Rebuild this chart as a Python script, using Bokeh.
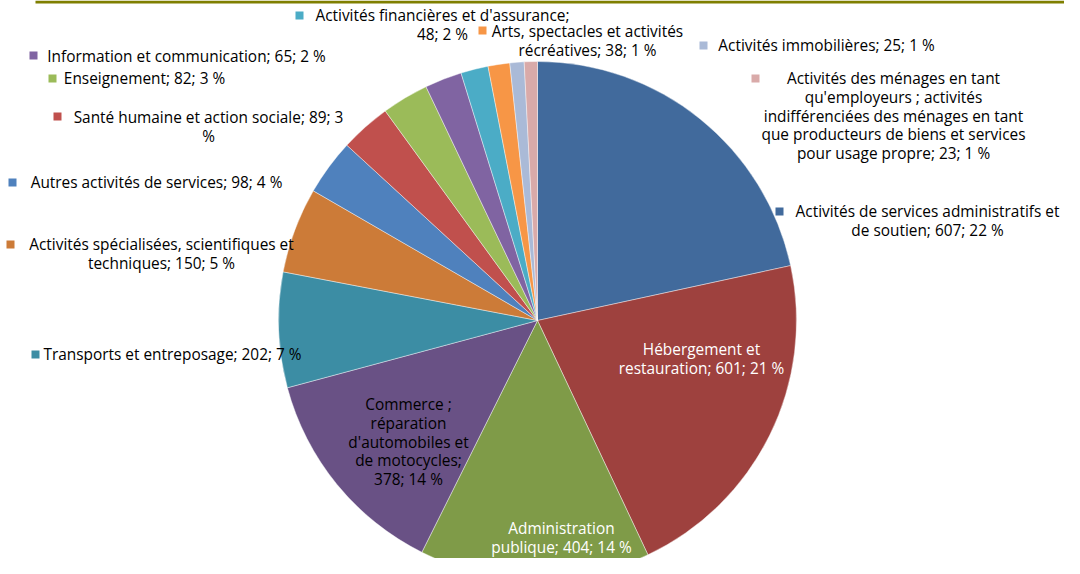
import math
from bokeh.plotting import figure
from bokeh.models import Range1d, ColumnDataSource
from bokeh.core.properties import value
from bokeh.embed import file_html
from bokeh.resources import INLINE

# ---- data (clockwise from 12 o'clock) ----
categories = [
    "Activités de services administratifs et de soutien",
    "Hébergement et restauration",
    "Administration publique",
    "Commerce ; réparation d'automobiles et de motocycles",
    "Transports et entreposage",
    "Activités spécialisées, scientifiques et techniques",
    "Autres activités de services",
    "Santé humaine et action sociale",
    "Enseignement",
    "Information et communication",
    "Activités financières et d'assurance",
    "Arts, spectacles et activités récréatives",
    "Activités immobilières",
    "Activités des ménages en tant qu'employeurs ; activités indifférenciées des ménages en tant que producteurs de biens et services pour usage propre",
]
values = [607, 601, 404, 378, 202, 150, 98, 89, 82, 65, 48, 38, 25, 23]
percents = [22, 21, 14, 14, 7, 5, 4, 3, 3, 2, 2, 1, 1, 1]
colors = ["#416A9C", "#9E413E", "#7F9B48", "#695185", "#3C8DA4", "#CC7B38",
          "#4F81BD", "#C0504D", "#9BBB59", "#8064A2", "#4BACC6", "#F79646",
          "#AABAD7", "#D9AAA9"]

# ---- label layout (page pixels): line breaks, first-line centre, marker, colour ----
label_lines = [
    ["Activités de services administratifs et", "de soutien; 607; 22 %"],
    ["Hébergement et", "restauration; 601; 21 %"],
    ["Administration", "publique; 404; 14 %"],
    ["Commerce ;", "réparation", "d'automobiles et", "de motocycles;", "378; 14 %"],
    ["Transports et entreposage; 202; 7 %"],
    ["Activités spécialisées, scientifiques et", "techniques; 150; 5 %"],
    ["Autres activités de services; 98; 4 %"],
    ["Santé humaine et action sociale; 89; 3", "%"],
    ["Enseignement; 82; 3 %"],
    ["Information et communication; 65; 2 %"],
    ["Activités financières et d'assurance;", "48; 2 %"],
    ["Arts, spectacles et activités", "récréatives; 38; 1 %"],
    ["Activités immobilières; 25; 1 %"],
    ["Activités des ménages en tant", "qu'employeurs ; activités",
     "indifférenciées des ménages en tant", "que producteurs de biens et services",
     "pour usage propre; 23; 1 %"],
]
label_pos = [(927, 211), (701, 349), (561, 528), (408, 404), (172, 354), (161, 244),
             (156, 182), (208, 117), (144, 78), (186, 56), (442, 15), (587, 31),
             (826, 45), (893, 78)]
marker_pos = [(779, 211), None, None, None, (35, 354), (10, 244), (12, 182),
              (57, 116), (52, 78), (33, 55), (299, 15), (482, 30), (703, 45), (755, 78)]
text_colors = ["black", "white", "white", "black"] + ["black"] * 10
LINE_H = 18.8

W, H = 1064, 558
def Y(py):
    return 574 - py

p = figure(width=W, height=H, output_backend="svg", toolbar_location=None,
           x_range=Range1d(0, W), y_range=Range1d(574 - H, 574),
           min_border=0, outline_line_color=None, background_fill_color="white")
p.axis.visible = False
p.grid.visible = False

# pie
cx, cy, r = 537, Y(320), 259
total = sum(values)
starts, ends = [], []
acc = 0
for v in values:
    starts.append(math.pi / 2 - 2 * math.pi * acc / total)
    acc += v
    ends.append(math.pi / 2 - 2 * math.pi * acc / total)
src = ColumnDataSource(dict(start=starts, end=ends, color=colors, cat=categories))
p.wedge(x=cx, y=cy, radius=r, start_angle="start", end_angle="end", direction="clock",
        fill_color="color", line_color="white", line_width=0.6, line_alpha=0.7,
        source=src)

# top olive rule
p.segment(x0=35, y0=Y(1.5), x1=1080, y1=Y(1.5), line_color="#7F7F00", line_width=3)

# labels
tx, ty, tt, tc = [], [], [], []
for lines, (lx, ly), col in zip(label_lines, label_pos, text_colors):
    for i, ln in enumerate(lines):
        tx.append(lx)
        ty.append(Y(ly + i * LINE_H))
        tt.append(ln)
        tc.append(col)
p.text(x=tx, y=ty, text=tt, text_color=tc, text_align="center", text_baseline="middle",
       text_font=value("Open Sans"), text_font_size="15.4px")

mx = [m[0] for m in marker_pos if m]
my = [Y(m[1]) for m in marker_pos if m]
mc = [c for c, m in zip(colors, marker_pos) if m]
p.scatter(x=mx, y=my, marker="square", size=8, fill_color=mc, line_color=None)

open("out.html", "w").write(file_html(p, INLINE))
